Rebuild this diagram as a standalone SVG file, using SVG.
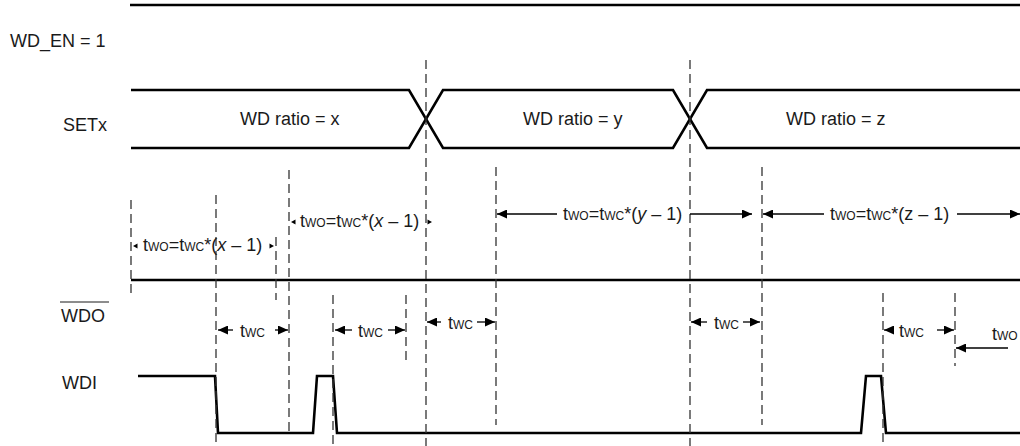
<svg xmlns="http://www.w3.org/2000/svg" width="1020" height="446" viewBox="0 0 1020 446">
<style>
text{font-family:"Liberation Sans",Arial,sans-serif;font-size:18px;fill:#1a1a1a}
.s{font-size:12px}
.sig{fill:none;stroke:#000;stroke-width:2.6;stroke-linejoin:miter}
.dash{stroke:#333;stroke-width:1.3;stroke-dasharray:9 5;fill:none}
.dim{stroke:#000;stroke-width:1.3;fill:none}
.arr{marker-end:url(#ah)}
.tri{fill:#000}
</style>
<defs>
<marker id="ah" viewBox="0 0 10 9" markerWidth="10" markerHeight="9" refX="10" refY="4.5" orient="auto" markerUnits="userSpaceOnUse">
<path d="M0,0 L10,4.5 L0,9 z" fill="#000"/>
</marker>
</defs>
<rect width="1020" height="446" fill="#fff"/>
<g id="wd_en">
<text x="10" y="47">WD_EN = 1</text>
<path class="sig" d="M130,5 H1020"/>
</g>
<g id="setx">
<text x="63" y="131">SETx</text>
<path class="sig" d="M131,90 H409 L443,148 H673 L707,90 H1020"/>
<path class="sig" d="M131,148 H409 L443,90 H673 L707,148 H1020"/>
<text x="240" y="125">WD ratio = x</text>
<text x="523" y="125">WD ratio = y</text>
<text x="786" y="125">WD ratio = z</text>
</g>
<g id="wdo">
<text x="61" y="322">WDO</text>
<line x1="60" y1="302" x2="109" y2="302" stroke="#1a1a1a" stroke-width="1"/>
<path class="sig" d="M131,280 H1020"/>
</g>
<g id="wdi">
<text x="62" y="389">WDI</text>
<path class="sig" d="M138,376 H215 L218,433 H313 L317,376 H333 L337,433 H861 L866,376 H881 L886,433 H1020"/>
</g>
<g id="connectors">
<g id="guides">
<line class="dash" x1="131" y1="200" x2="131" y2="298"/>
<line class="dash" x1="216" y1="195" x2="216" y2="446"/>
<line class="dash" x1="276" y1="237" x2="276" y2="300"/>
<line class="dash" x1="289" y1="170" x2="289" y2="432"/>
<line class="dash" x1="333" y1="295" x2="333" y2="446"/>
<line class="dash" x1="406" y1="295" x2="406" y2="365"/>
<line class="dash" x1="426" y1="60" x2="426" y2="446"/>
<line class="dash" x1="496" y1="167" x2="496" y2="425"/>
<line class="dash" x1="690" y1="60" x2="690" y2="446"/>
<line class="dash" x1="762" y1="167" x2="762" y2="425"/>
<line class="dash" x1="883" y1="293" x2="883" y2="446"/>
<line class="dash" x1="955" y1="293" x2="955" y2="366"/>
</g>
<g id="twc">
<line class="dim arr" x1="233" y1="330" x2="218" y2="330"/>
<line class="dim arr" x1="275" y1="330" x2="288" y2="330"/>
<text x="240" y="337">t<tspan class="s">WC</tspan></text>
<line class="dim arr" x1="352" y1="330" x2="335" y2="330"/>
<line class="dim arr" x1="388" y1="330" x2="405" y2="330"/>
<text x="358" y="337">t<tspan class="s">WC</tspan></text>
<line class="dim arr" x1="441" y1="322" x2="427" y2="322"/>
<line class="dim arr" x1="477" y1="322" x2="495" y2="322"/>
<text x="448" y="329">t<tspan class="s">WC</tspan></text>
<line class="dim arr" x1="707" y1="322" x2="691" y2="322"/>
<line class="dim arr" x1="743" y1="322" x2="760" y2="322"/>
<text x="714" y="329">t<tspan class="s">WC</tspan></text>
<line class="dim arr" x1="893" y1="330" x2="884" y2="330"/>
<line class="dim arr" x1="937" y1="330" x2="954" y2="330"/>
<text x="899" y="337">t<tspan class="s">WC</tspan></text>
</g>
<g id="two">
<path class="tri" d="M133,246 L137.5,243.5 L137.5,248.5 z"/>
<path class="tri" d="M274,246 L269.5,243.5 L269.5,248.5 z"/>
<text x="143" y="251">t<tspan class="s">WO</tspan>=t<tspan class="s">WC</tspan>*(<tspan font-style="italic">x</tspan> – 1)</text>
<path class="tri" d="M291,222 L295.5,219.5 L295.5,224.5 z"/>
<path class="tri" d="M432,222 L427.5,219.5 L427.5,224.5 z"/>
<text x="300" y="227">t<tspan class="s">WO</tspan>=t<tspan class="s">WC</tspan>*(<tspan font-style="italic">x</tspan> – 1)</text>
<line class="dim arr" x1="557" y1="214" x2="497" y2="214"/>
<line class="dim arr" x1="690" y1="214" x2="752" y2="214"/>
<text x="563" y="220">t<tspan class="s">WO</tspan>=t<tspan class="s">WC</tspan>*(<tspan font-style="italic">y</tspan> – 1)</text>
<line class="dim arr" x1="824" y1="214" x2="763" y2="214"/>
<line class="dim arr" x1="957" y1="214" x2="1020" y2="214"/>
<text x="830" y="220">t<tspan class="s">WO</tspan>=t<tspan class="s">WC</tspan>*(z – 1)</text>
<line class="dim arr" x1="1008" y1="348" x2="956" y2="348"/>
<text x="992" y="340">t<tspan class="s">WO</tspan></text>
</g>
</g>
</svg>
